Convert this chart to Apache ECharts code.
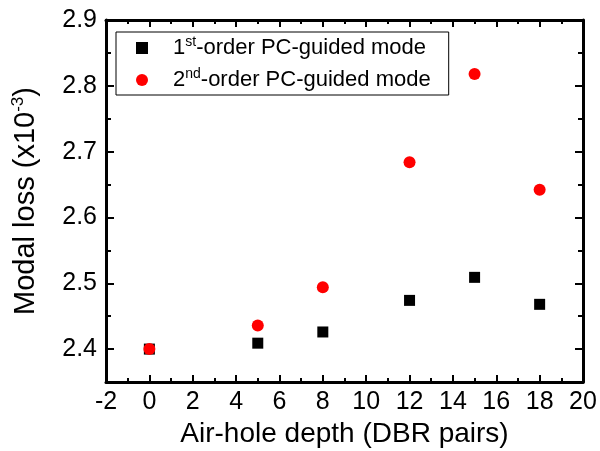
<!DOCTYPE html>
<html>
<head>
<meta charset="utf-8">
<script src="https://cdn.jsdelivr.net/npm/echarts@6/dist/echarts.min.js"></script>
<style>
	html, body { margin: 0; padding: 0; background: #fff; }
	#chart { width: 600px; height: 451px; }
</style>
</head>
<body>
<div id="chart"></div>
<script>
	// air-hole depth in DBR pairs
	var depth = [0, 5, 8, 12, 15, 18]
	// modal loss (x10^-3)
	var firstOrder = [2.400, 2.409, 2.426, 2.474, 2.509, 2.468]
	var secondOrder = [2.400, 2.436, 2.494, 2.684, 2.818, 2.642]
	// y ticks: labelled and minor
	var yMajor = [2.4, 2.5, 2.6, 2.7, 2.8, 2.9]
	var yMinor = [2.45, 2.55, 2.65, 2.75, 2.85]

	var fontName = 'Liberation Sans'

	function pairs(xs, ys) {
		return xs.map(function (x, i) { return [x, ys[i]] })
	}

	var frameLine = { show: true, onZero: false, lineStyle: { color: '#000', width: 3 } }
	var tickStyle = { color: '#000', width: 2 }

	function xAxisOf(pos, withText) {
		var ax = {
			type: 'value',
			position: pos,
			min: -2,
			max: 20,
			interval: 2,
			axisLine: frameLine,
			axisTick: { show: true, inside: true, length: 7, lineStyle: tickStyle },
			minorTick: { show: true, splitNumber: 2, length: 4, lineStyle: tickStyle },
			axisLabel: { show: false },
			splitLine: { show: false },
			minorSplitLine: { show: false }
		}
		if (withText) {
			ax.name = 'Air-hole depth (DBR pairs)'
			ax.nameLocation = 'middle'
			ax.nameGap = 38
			ax.nameTextStyle = { fontFamily: fontName, fontSize: 28, color: '#000' }
			ax.axisLabel = { show: true, fontFamily: fontName, fontSize: 25, color: '#000', margin: 8 }
		}
		return ax
	}

	function yAxisOf(pos, withText) {
		var ax = {
			type: 'value',
			position: pos,
			min: 2.35,
			max: 2.9,
			interval: 0.05,
			axisLine: frameLine,
			axisTick: { show: true, inside: true, length: 8, lineStyle: tickStyle, customValues: yMajor },
			axisLabel: { show: false },
			splitLine: { show: false }
		}
		if (withText) {
			ax.name = '{a|Modal loss (x10}{s|-3}{a|)}'
			ax.nameLocation = 'middle'
			ax.nameGap = 65
			ax.nameTextStyle = {
				rich: {
					a: { fontFamily: fontName, fontSize: 29, color: '#000', lineHeight: 31 },
					s: { fontFamily: fontName, fontSize: 17, color: '#000', verticalAlign: 'top', lineHeight: 17 }
				}
			}
			ax.axisLabel = {
				show: true, fontFamily: fontName, fontSize: 25, color: '#000', margin: 9,
				customValues: yMajor,
				formatter: function (v) { return v.toFixed(1) }
			}
		}
		return ax
	}

	function yMinorAxis(pos) {
		return {
			type: 'value',
			position: pos,
			min: 2.35,
			max: 2.9,
			interval: 0.05,
			axisLine: { show: false, onZero: false },
			axisTick: { show: true, inside: true, length: 5, lineStyle: tickStyle, customValues: yMinor },
			axisLabel: { show: false },
			splitLine: { show: false }
		}
	}

	var option = {
		animation: false,
		backgroundColor: '#fff',
		grid: { left: 106, top: 20, right: 17, bottom: 69, outerBoundsMode: 'none' },
		legend: {
			left: 116,
			top: 32,
			orient: 'vertical',
			padding: [3, 18, 4, 20],
			itemGap: 8,
			itemWidth: 12,
			itemHeight: 12,
			borderColor: '#000',
			borderWidth: 1,
			data: [
				{ name: 'first', icon: 'rect' },
				{ name: 'second', icon: 'circle' }
			],
			formatter: function (name) {
				if (name === 'first') return '{a|1}{s|st}{a|-order PC-guided mode}'
				return '{a|2}{s|nd}{a|-order PC-guided mode}'
			},
			textStyle: {
				padding: [0, 0, 0, 20],
				rich: {
					a: { fontFamily: fontName, fontSize: 22, color: '#000', lineHeight: 26 },
					s: { fontFamily: fontName, fontSize: 14, color: '#000', verticalAlign: 'top', lineHeight: 14 }
				}
			}
		},
		xAxis: [xAxisOf('bottom', true), xAxisOf('top', false)],
		yAxis: [yAxisOf('left', true), yAxisOf('right', false), yMinorAxis('left'), yMinorAxis('right')],
		series: [{
			name: 'first',
			type: 'scatter',
			symbol: 'rect',
			symbolSize: 11,
			itemStyle: { color: '#000', opacity: 1 },
			data: pairs(depth, firstOrder)
		}, {
			name: 'second',
			type: 'scatter',
			symbol: 'circle',
			symbolSize: 12,
			itemStyle: { color: '#ff0000', opacity: 1 },
			data: pairs(depth, secondOrder)
		}]
	}

	var chart = echarts.init(document.getElementById('chart'))
	chart.setOption(option)
</script>
</body>
</html>
